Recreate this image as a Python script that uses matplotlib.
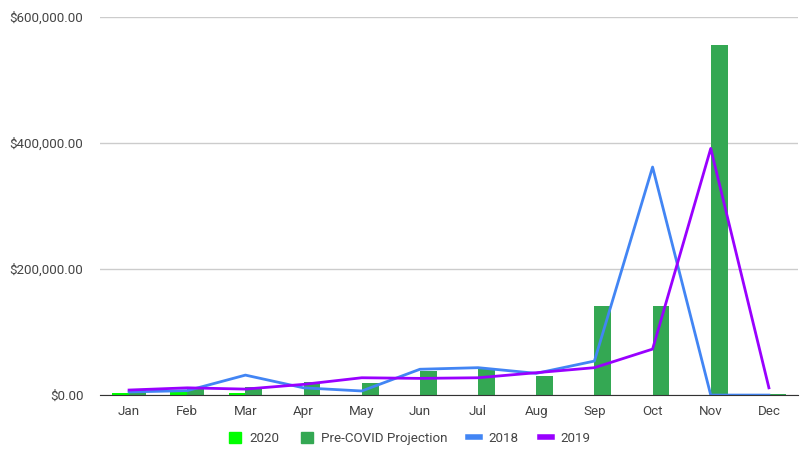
import numpy as np
import matplotlib
matplotlib.use("Agg")
import matplotlib.pyplot as plt
from matplotlib.ticker import FuncFormatter
from matplotlib.patches import Patch
from matplotlib.lines import Line2D

months = ["Jan", "Feb", "Mar", "Apr", "May", "Jun", "Jul", "Aug", "Sep", "Oct", "Nov", "Dec"]
sales_2020 = [4000, 8000, 3500, 0, 0, 0, 0, 0, 0, 0, 0, 0]
pre_covid = [8000, 11500, 12500, 21000, 19500, 38500, 41000, 30000, 141000, 141000, 555000, 2500]
sales_2018 = [5000, 7000, 31700, 11500, 6500, 41000, 43500, 34500, 54000, 362000, 0, 0]
sales_2019 = [8000, 11500, 9500, 17000, 27500, 26500, 27500, 35500, 43500, 73000, 391500, 11500]

plt.rcParams['font.family'] = ['Roboto', 'DejaVu Sans']

fig = plt.figure(figsize=(8, 4.51), dpi=100)
ax = fig.add_axes([0.125, 0.124, 0.8725, 0.838])

x = np.arange(len(months))
w = 0.29
ax.bar(x - w / 2, sales_2020, w, color="#00ff00", zorder=2)
ax.bar(x + w / 2, pre_covid, w, color="#34a853", zorder=2)
ax.plot(x, sales_2018, color="#4285f4", lw=2, zorder=3)
ax.plot(x, sales_2019, color="#9900ff", lw=2, zorder=3)

ax.set_xlim(-0.5, len(months) - 0.5)
ax.set_ylim(0, 600000)
ax.set_yticks([0, 200000, 400000, 600000])
ax.yaxis.set_major_formatter(FuncFormatter(lambda v, p: "${:,.2f}".format(v)))
ax.set_xticks(x)
ax.set_xticklabels(months)
ax.tick_params(length=0, labelsize=9.6, colors="#444444")
ax.tick_params(axis="y", pad=12)
ax.tick_params(axis="x", pad=7)
ax.grid(axis="y", color="#cccccc", lw=1, zorder=0)
ax.set_axisbelow(True)
for s in ["top", "right", "left"]:
    ax.spines[s].set_visible(False)
ax.spines["bottom"].set_color("#333333")
ax.spines["bottom"].set_zorder(4)

handles = [
    Patch(color="#00ff00", label="2020"),
    Patch(color="#34a853", label="Pre-COVID Projection"),
    Line2D([], [], color="#4285f4", lw=4, label="2018"),
    Line2D([], [], color="#9900ff", lw=4, label="2019"),
]
fig.legend(handles=handles, loc="center", bbox_to_anchor=(0.512, 0.027), ncol=4,
           frameon=False, fontsize=9.6, handlelength=0.9, handleheight=0.9,
           handletextpad=0.6, columnspacing=1.6, labelcolor="#444444")

fig.savefig("out.png", dpi=100)
